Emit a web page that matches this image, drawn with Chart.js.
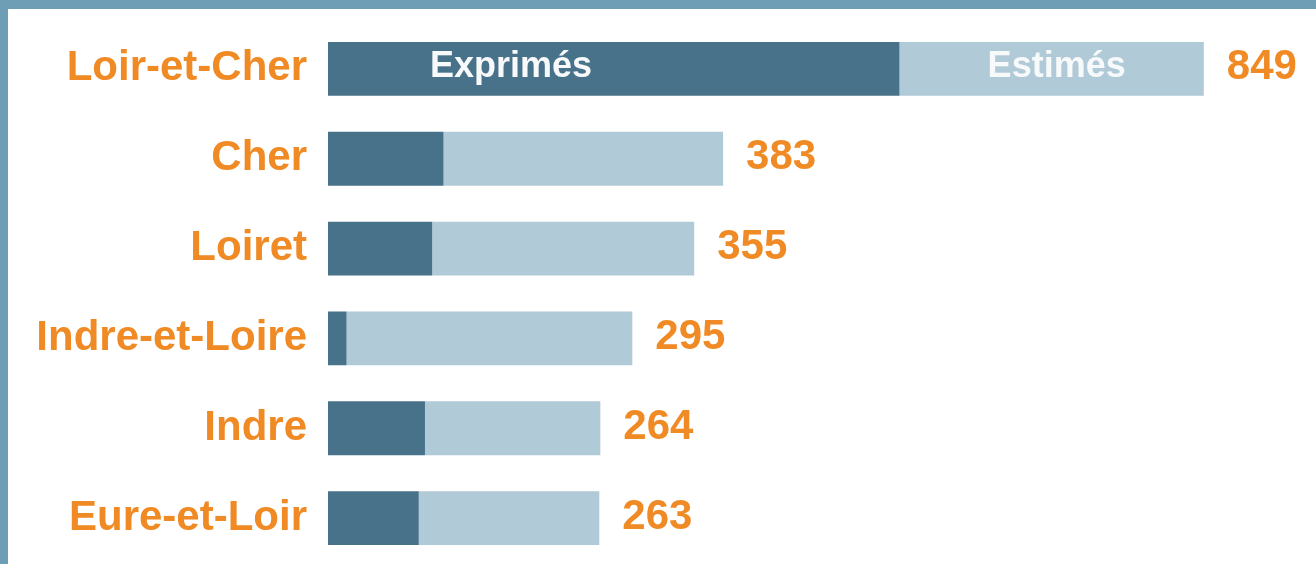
<!DOCTYPE html>
<html lang="fr">
<head>
    <meta charset="UTF-8">
    <title>Exprimés / Estimés</title>
    <script src="https://cdn.jsdelivr.net/npm/chart.js"></script>
    <style>
        html, body {
            margin: 0;
            padding: 0;
            background: #ffffff;
        }
        .wrap {
            position: relative;
            width: 1316px;
            height: 564px;
            overflow: hidden;
        }
        canvas {
            position: absolute;
            left: 0;
            top: 0;
        }
        /* bandeau bleu en haut et a gauche */
        .band-top {
            position: absolute;
            left: 0; top: 0;
            width: 1316px; height: 9px;
            background: #6e9eb6;
        }
        .band-left {
            position: absolute;
            left: 0; top: 0;
            width: 8px; height: 564px;
            background: #6e9eb6;
        }
    </style>
</head>
<body>
    <div class="wrap">
        <canvas id="graph" width="1316" height="564"></canvas>
        <div class="band-top"></div>
        <div class="band-left"></div>
    </div>

    <script>
        // donnees
        var categories = ['Loir-et-Cher', 'Cher', 'Loiret', 'Indre-et-Loire', 'Indre', 'Eure-et-Loir'];
        var exprimes = [554, 112, 101, 18, 94, 88];
        var estimes = [295, 271, 254, 277, 170, 175];
        var totals = [849, 383, 355, 295, 264, 263];
        var seriesNames = ['Exprimés', 'Estimés'];

        var orange = '#f08a24';
        var labelFont = 'bold 42px "Liberation Sans", Arial, sans-serif';

        // textes : valeurs au bout des barres + noms des series dans la 1ere barre
        var textPlugin = {
            id: 'textPlugin',
            afterDatasetsDraw: function(chart) {
                var ctx = chart.ctx;
                var metaA = chart.getDatasetMeta(0);
                var metaB = chart.getDatasetMeta(1);
                ctx.save();
                ctx.textBaseline = 'middle';

                // totaux
                ctx.font = labelFont;
                ctx.fillStyle = orange;
                ctx.textAlign = 'left';
                for (var i = 0; i < totals.length; i++) {
                    var bar = metaB.data[i];
                    ctx.fillText(String(totals[i]), bar.x + 23, bar.y - 1);
                }

                // legende dans la premiere barre
                ctx.font = 'bold 36px "Liberation Sans", Arial, sans-serif';
                ctx.fillStyle = '#f7f9fa';
                var a = metaA.data[0];
                ctx.textAlign = 'left';
                ctx.fillText(seriesNames[0], a.base + 102, a.y - 2);
                var b = metaB.data[0];
                ctx.textAlign = 'center';
                ctx.fillText(seriesNames[1], (b.base + b.x) / 2 + 5, b.y - 2);
                ctx.restore();
            }
        };

        var ctx = document.getElementById('graph').getContext('2d');
        var graph = new Chart(ctx, {
            type: 'bar',
            data: {
                labels: categories,
                datasets: [{
                    label: seriesNames[0],
                    data: exprimes,
                    backgroundColor: '#47728a',
                    borderWidth: 0,
                    barPercentage: 1,
                    categoryPercentage: 0.6
                }, {
                    label: seriesNames[1],
                    data: estimes,
                    backgroundColor: '#b1cad7',
                    borderWidth: 0,
                    barPercentage: 1,
                    categoryPercentage: 0.6
                }]
            },
            options: {
                indexAxis: 'y',
                responsive: false,
                animation: false,
                layout: {
                    padding: { top: 24, bottom: 1, left: 0, right: 8 }
                },
                scales: {
                    x: {
                        stacked: true,
                        min: 0,
                        max: 950,
                        display: false
                    },
                    y: {
                        stacked: true,
                        grid: { display: false, drawTicks: false },
                        border: { display: false },
                        ticks: {
                            color: orange,
                            font: { family: '"Liberation Sans", Arial, sans-serif', size: 42, weight: 'bold' },
                            padding: 21
                        },
                        afterFit: function(scale) {
                            scale.width = 328;
                            scale.paddingTop = 0;
                            scale.paddingBottom = 0;
                        }
                    }
                },
                plugins: {
                    legend: { display: false },
                    tooltip: { enabled: false }
                }
            },
            plugins: [textPlugin]
        });
    </script>
</body>
</html>
